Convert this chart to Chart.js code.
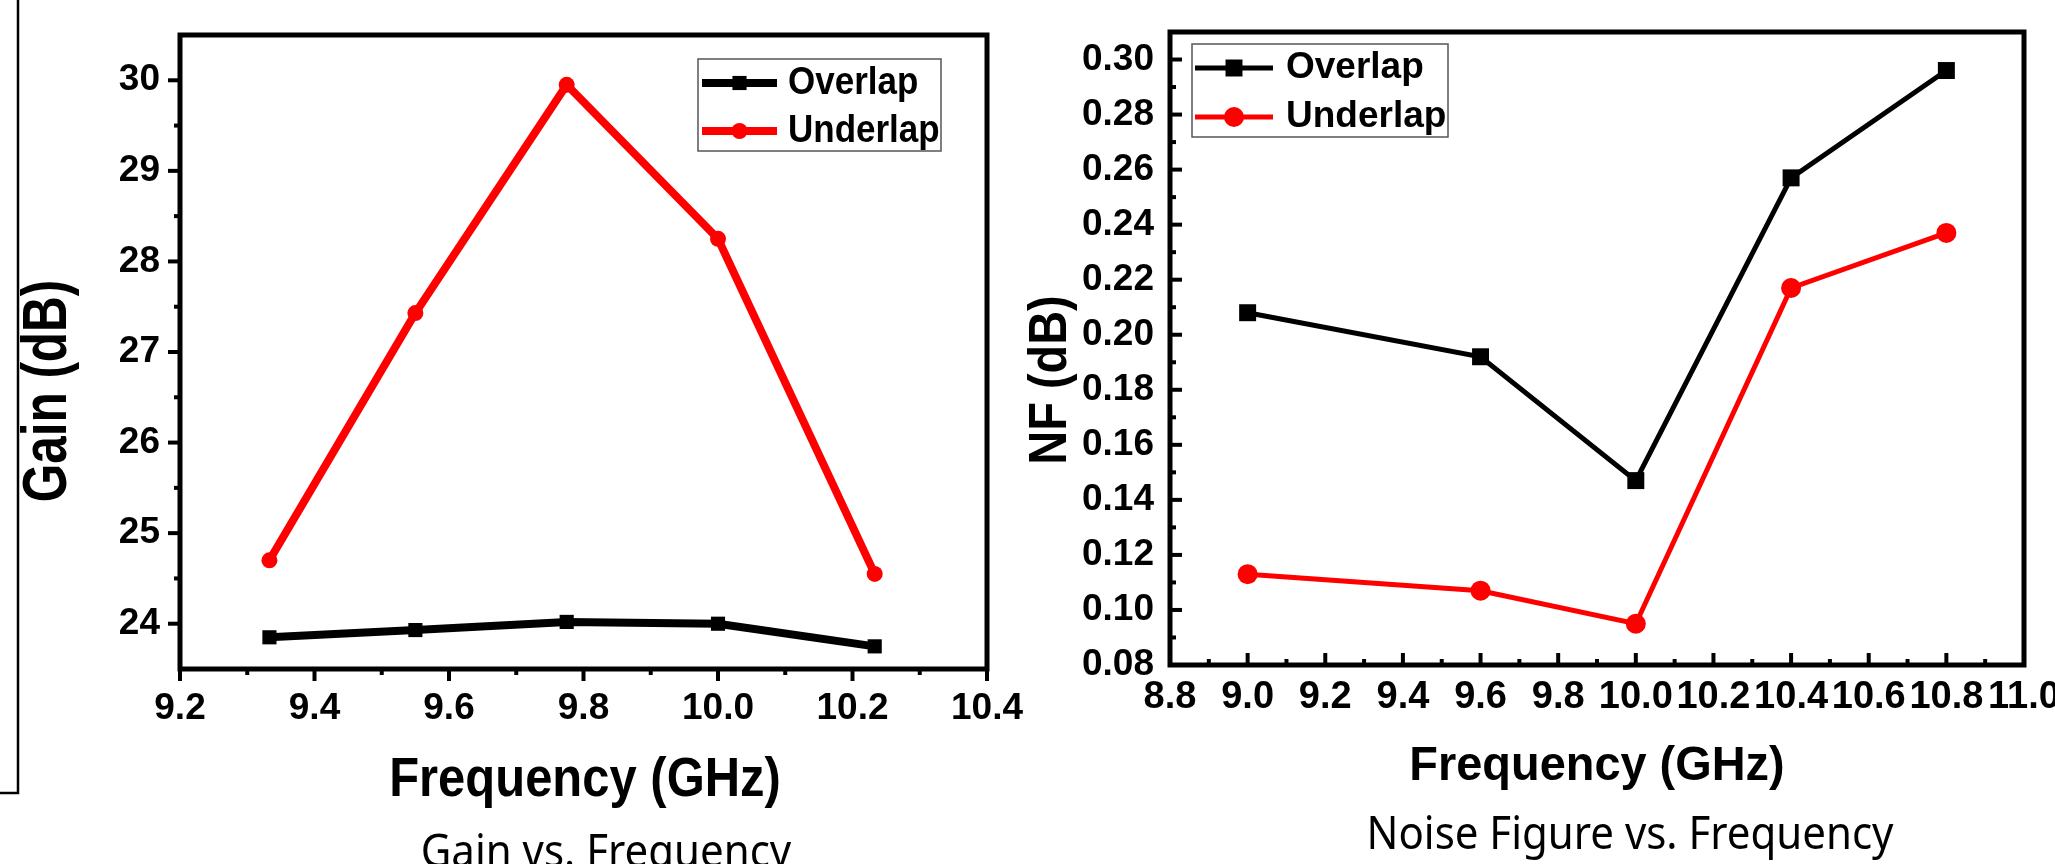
<!DOCTYPE html>
<html lang="en">
<head>
<meta charset="UTF-8">
<title>Gain and Noise Figure vs. Frequency</title>
<script src="https://cdn.jsdelivr.net/npm/chart.js"></script>
<style>
  html, body { margin: 0; padding: 0; background: #fff; }
  body { width: 2055px; height: 864px; position: relative; overflow: hidden; }
  canvas { position: absolute; left: 0; top: 0; }
</style>
</head>
<body>
<canvas id="gainChart" width="2055" height="864"></canvas>
<canvas id="nfChart" width="2055" height="864"></canvas>
<script>
// Gain vs. Frequency
const gainFreq = [9.333, 9.55, 9.775, 10.0, 10.233];
const gainOverlap = [23.85, 23.93, 24.02, 24.0, 23.75];
const gainUnderlap = [24.7, 27.43, 29.95, 28.25, 24.55];
const gainXTicks = [9.2, 9.4, 9.6, 9.8, 10.0, 10.2, 10.4];
const gainYTicks = [24, 25, 26, 27, 28, 29, 30];

// Noise Figure vs. Frequency
const nfFreq = [9.0, 9.6, 10.0, 10.4, 10.8];
const nfOverlap = [0.208, 0.192, 0.147, 0.257, 0.296];
const nfUnderlap = [0.113, 0.107, 0.095, 0.217, 0.237];
const nfXTicks = [8.8, 9.0, 9.2, 9.4, 9.6, 9.8, 10.0, 10.2, 10.4, 10.6, 10.8, 11.0];
const nfYTicks = [0.08, 0.10, 0.12, 0.14, 0.16, 0.18, 0.20, 0.22, 0.24, 0.26, 0.28, 0.30];

const seriesNames = ['Overlap', 'Underlap'];

Chart.defaults.font.family = "'Liberation Sans', Arial, sans-serif";
Chart.defaults.color = '#000';

function midpoints(arr) {
  const out = [];
  for (let i = 0; i < arr.length - 1; i++) out.push((arr[i] + arr[i + 1]) / 2);
  return out;
}

function points(xs, ys) {
  return xs.map((x, i) => ({ x: x, y: ys[i] }));
}

function text(ctx, str, x, y, font, sx, sy, rot, align) {
  ctx.save();
  ctx.translate(x, y);
  if (rot) ctx.rotate(rot);
  ctx.scale(sx, sy);
  ctx.font = font;
  ctx.fillStyle = '#000';
  ctx.textAlign = align || 'center';
  ctx.textBaseline = 'middle';
  ctx.fillText(str, 0, 0);
  ctx.restore();
}

// frame, tick marks, axis titles, legend and caption
function deco(cfg) {
  return {
    id: 'deco',
    afterDraw(chart) {
      const ctx = chart.ctx;
      const a = chart.chartArea;
      const xs = chart.scales.x, ys = chart.scales.y;
      ctx.save();
      ctx.strokeStyle = '#000';
      ctx.lineCap = 'butt';

      // ticks
      ctx.lineWidth = 4;
      const dx = cfg.inward ? -1 : 1;
      const tick = (scale, vals, len) => {
        vals.forEach(v => {
          ctx.beginPath();
          const p = scale.getPixelForValue(v);
          if (scale.axis === 'x') {
            ctx.moveTo(p, a.bottom);
            ctx.lineTo(p, a.bottom + dx * len);
          } else {
            ctx.moveTo(a.left, p);
            ctx.lineTo(a.left - dx * len, p);
          }
          ctx.stroke();
        });
      };
      tick(xs, cfg.xMajor, 12);
      tick(xs, midpoints(cfg.xMajor), 6);
      tick(ys, cfg.yMajor, 12);
      tick(ys, cfg.yMinor, 6);

      // frame
      ctx.lineWidth = 5;
      ctx.lineJoin = 'miter';
      ctx.strokeRect(a.left, a.top, a.right - a.left, a.bottom - a.top);

      // axis titles
      const t = cfg.titles;
      const tf = 'bold ' + t.size + 'px "Liberation Sans", Arial';
      text(ctx, t.x.text, t.x.cx, t.x.cy, tf, t.x.sx, t.x.sy, 0);
      text(ctx, t.y.text, t.y.cx, t.y.cy, tf, t.y.sx, t.y.sy, -Math.PI / 2);

      // legend
      const L = cfg.legend;
      ctx.fillStyle = '#fff';
      ctx.fillRect(L.left, L.top, L.right - L.left, L.bottom - L.top);
      ctx.lineWidth = 1.5;
      ctx.strokeStyle = '#555';
      ctx.strokeRect(L.left, L.top, L.right - L.left, L.bottom - L.top);
      chart.data.datasets.forEach((ds, i) => {
        const y = L.rows[i];
        ctx.strokeStyle = ds.borderColor;
        ctx.lineWidth = ds.borderWidth;
        ctx.beginPath();
        ctx.moveTo(L.lineX1, y);
        ctx.lineTo(L.lineX2, y);
        ctx.stroke();
        ctx.fillStyle = ds.backgroundColor;
        Chart.helpers.drawPoint(ctx, { pointStyle: ds.pointStyle, radius: ds.pointRadius, borderWidth: 0, rotation: 0 },
          (L.lineX1 + L.lineX2) / 2, y);
        text(ctx, ds.label, L.textX, y, 'bold ' + L.size + 'px "Liberation Sans", Arial', 1, L.sy, 0, 'left');
      });

      // caption
      const c = cfg.caption;
      ctx.save();
      ctx.translate(c.cx, c.baseline);
      ctx.scale(1, c.sy);
      ctx.font = c.size + 'px "Noto Sans", "Open Sans", sans-serif';
      ctx.fillStyle = '#000';
      ctx.textAlign = 'center';
      ctx.textBaseline = 'alphabetic';
      ctx.fillText(c.text, 0, 0);
      ctx.restore();

      if (cfg.sideBox) {
        ctx.strokeStyle = '#000';
        ctx.lineWidth = 2.5;
        ctx.beginPath();
        ctx.moveTo(18, 0);
        ctx.lineTo(18, 793);
        ctx.lineTo(0, 793);
        ctx.stroke();
      }
      ctx.restore();
    }
  };
}

function axis(min, max, ticks, fmt, size, pad, fitFn) {
  return {
    type: 'linear', min: min, max: max,
    afterBuildTicks: s => { s.ticks = ticks.map(v => ({ value: v })); },
    afterFit: s => { fitFn(s); s.paddingLeft = 0; s.paddingRight = 0; s.paddingTop = 0; s.paddingBottom = 0; },
    grid: { display: false, drawTicks: false },
    border: { display: false },
    ticks: { autoSkip: false, maxRotation: 0, padding: pad, color: '#000',
      font: { size: size, weight: 'bold' }, callback: fmt }
  };
}

function makeSets(xs, over, under, lw, sq, ci) {
  return [
    { label: seriesNames[0], data: points(xs, over), borderColor: '#000', backgroundColor: '#000',
      borderWidth: lw, pointStyle: 'rect', pointRadius: sq, pointBorderWidth: 0, tension: 0 },
    { label: seriesNames[1], data: points(xs, under), borderColor: '#ff0000', backgroundColor: '#ff0000',
      borderWidth: lw, pointStyle: 'circle', pointRadius: ci, pointBorderWidth: 0, tension: 0 }
  ];
}

const baseOptions = {
  responsive: false,
  animation: false,
  devicePixelRatio: 1,
  events: [],
  plugins: { legend: { display: false }, tooltip: { enabled: false } }
};

new Chart(document.getElementById('gainChart'), {
  type: 'line',
  data: { datasets: makeSets(gainFreq, gainOverlap, gainUnderlap, 8, 10, 8) },
  options: Object.assign({}, baseOptions, {
    layout: { padding: { left: 0, top: 35, right: 2055 - 987, bottom: 0 } },
    scales: {
      x: axis(9.2, 10.4, gainXTicks, v => v.toFixed(1), 37, 18, s => { s.height = 864 - 669; }),
      y: axis(23.5, 30.5, gainYTicks, v => String(v), 37, 20, s => { s.width = 180; })
    }
  }),
  plugins: [deco({
    inward: false,
    xMajor: gainXTicks,
    yMajor: gainYTicks,
    yMinor: midpoints(gainYTicks),
    titles: { size: 48,
      x: { text: 'Frequency (GHz)', cx: 585, cy: 781, sx: 1.02, sy: 1.15 },
      y: { text: 'Gain (dB)', cx: 49, cy: 391, sx: 1.03, sy: 1.3 } },
    legend: { left: 698, top: 59, right: 941, bottom: 151, rows: [83, 131],
      lineX1: 702, lineX2: 777, textX: 788, size: 35, sy: 1.1 },
    caption: { text: 'Gain vs. Frequency', cx: 606, baseline: 867, size: 42, sy: 1.1 },
    sideBox: true
  })]
});

new Chart(document.getElementById('nfChart'), {
  type: 'line',
  data: { datasets: makeSets(nfFreq, nfOverlap, nfUnderlap, 5, 12, 10) },
  options: Object.assign({}, baseOptions, {
    layout: { padding: { left: 0, top: 32, right: 2055 - 2024, bottom: 0 } },
    scales: {
      x: axis(8.8, 11.0, nfXTicks, v => v.toFixed(1), 38, 10, s => { s.height = 864 - 665; }),
      y: axis(0.08, 0.31, nfYTicks, v => v.toFixed(2), 37, 16, s => { s.width = 1170; })
    }
  }),
  plugins: [deco({
    inward: true,
    xMajor: nfXTicks,
    yMajor: nfYTicks,
    yMinor: midpoints(nfYTicks),
    titles: { size: 46,
      x: { text: 'Frequency (GHz)', cx: 1597, cy: 767, sx: 1.02, sy: 1.05 },
      y: { text: 'NF (dB)', cx: 1051, cy: 380, sx: 1.02, sy: 1.15 } },
    legend: { left: 1192, top: 44, right: 1448, bottom: 137, rows: [68, 117],
      lineX1: 1195, lineX2: 1273, textX: 1286, size: 37, sy: 1.0 },
    caption: { text: 'Noise Figure vs. Frequency', cx: 1630, baseline: 849, size: 42, sy: 1.1 },
    sideBox: false
  })]
});
</script>
</body>
</html>
